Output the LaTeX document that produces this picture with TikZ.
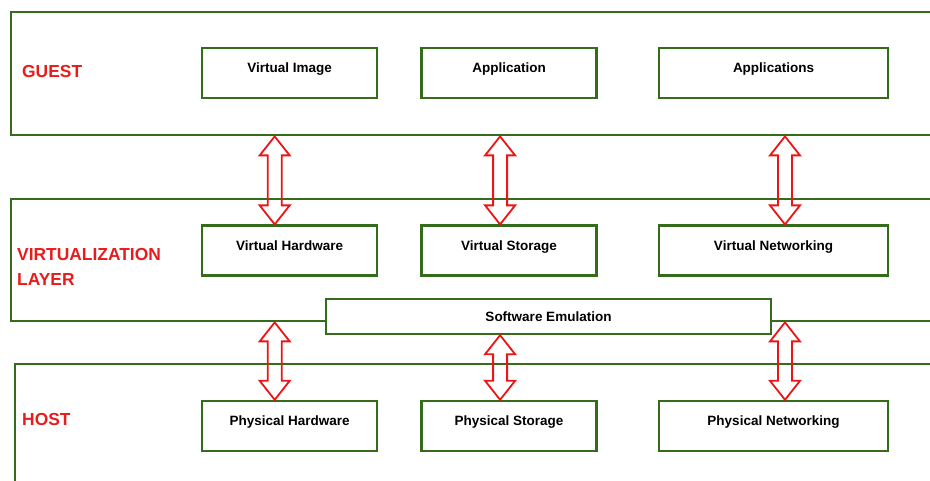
\documentclass[tikz,border=0pt]{standalone}
\usepackage{fontspec}
\setmainfont{Liberation Sans}
\usetikzlibrary{positioning,calc}
\definecolor{layergreen}{RGB}{52,108,28}
\definecolor{labelred}{RGB}{232,28,28}
\definecolor{arrowred}{RGB}{236,20,20}

\begin{document}
\begin{tikzpicture}[
      x=1pt,y=1pt,
      node distance=42pt,
      layer/.style={
        draw=layergreen,
        line width=2.4pt,
        inner sep=0pt,
        anchor=north west,
        minimum width=930pt
      },
      box/.style={
        draw=layergreen,
        fill=white,
        line width=2.4pt,
        minimum width=175pt,
        minimum height=50pt,
        text height=10pt,
        text depth=11pt,
        font=\fontsize{13.5}{16}\selectfont\bfseries
      },
      widebox/.style={box,minimum width=229pt},
      tag/.style={
        text=labelred,
        inner sep=0pt,
        anchor=west,
        align=left,
        font=\fontsize{17.4}{25}\selectfont\bfseries
      },
      dblarrow/.style={
        draw=arrowred,
        line width=1.8pt,
        line join=miter,
        to path={let \p1=(\tikztostart), \p2=(\tikztotarget) in
          (\x2,\y1) -- (\x2-15pt,\y1-19pt) -- (\x2-7pt,\y1-19pt) -- (\x2-7pt,\y2+19pt)
          -- (\x2-15pt,\y2+19pt) -- (\x2,\y2) -- (\x2+15pt,\y2+19pt) -- (\x2+7pt,\y2+19pt)
          -- (\x2+7pt,\y1-19pt) -- (\x2+15pt,\y1-19pt) -- cycle}
      }
    ]
      \useasboundingbox (0,0) rectangle (930,480);
      \clip (0,0) rectangle (930,480);

      \node[layer,minimum height=123pt] (guest) at (10,469) {};
      \node[layer,minimum height=122pt] (virt) at (10,282) {};
      \node[layer,minimum height=130pt] (host) at (14,117) {};
      \node[box,minimum width=445pt,minimum height=35pt,text height=,text depth=] (emul) at (548.5,163.5) {Software Emulation};

      \node[box,anchor=north west] (vimg) at (201,433) {Virtual Image};
      \node[box,right=of vimg] (app) {Application};
      \node[widebox,right=60pt of app] (apps) {Applications};

      \node[box,below=125pt of vimg] (vhw) {Virtual Hardware};
      \node[box,right=of vhw] (vsto) {Virtual Storage};
      \node[widebox,right=60pt of vsto] (vnet) {Virtual Networking};

      \node[box,below=123pt of vhw] (phw) {Physical Hardware};
      \node[box,right=of phw] (psto) {Physical Storage};
      \node[widebox,right=60pt of psto] (pnet) {Physical Networking};

      \node[tag] (guesttag) at (22,408) {GUEST};
      \node[tag] (virttag) at (17,213) {VIRTUALIZATION\\LAYER};
      \node[tag] (hosttag) at (22,60) {HOST};

      \draw[dblarrow] (guest.south) to ([xshift=-15pt]vhw.north);
      \draw[dblarrow] (guest.south) to ([xshift=-9pt]vsto.north);
      \draw[dblarrow] (guest.south) to ([xshift=11.5pt]vnet.north);
      \draw[dblarrow] (virt.south) to ([xshift=-15pt]phw.north);
      \draw[dblarrow] (emul.south) to ([xshift=-9pt]psto.north);
      \draw[dblarrow] (virt.south) to ([xshift=11.5pt]pnet.north);
    \end{tikzpicture}
\end{document}
